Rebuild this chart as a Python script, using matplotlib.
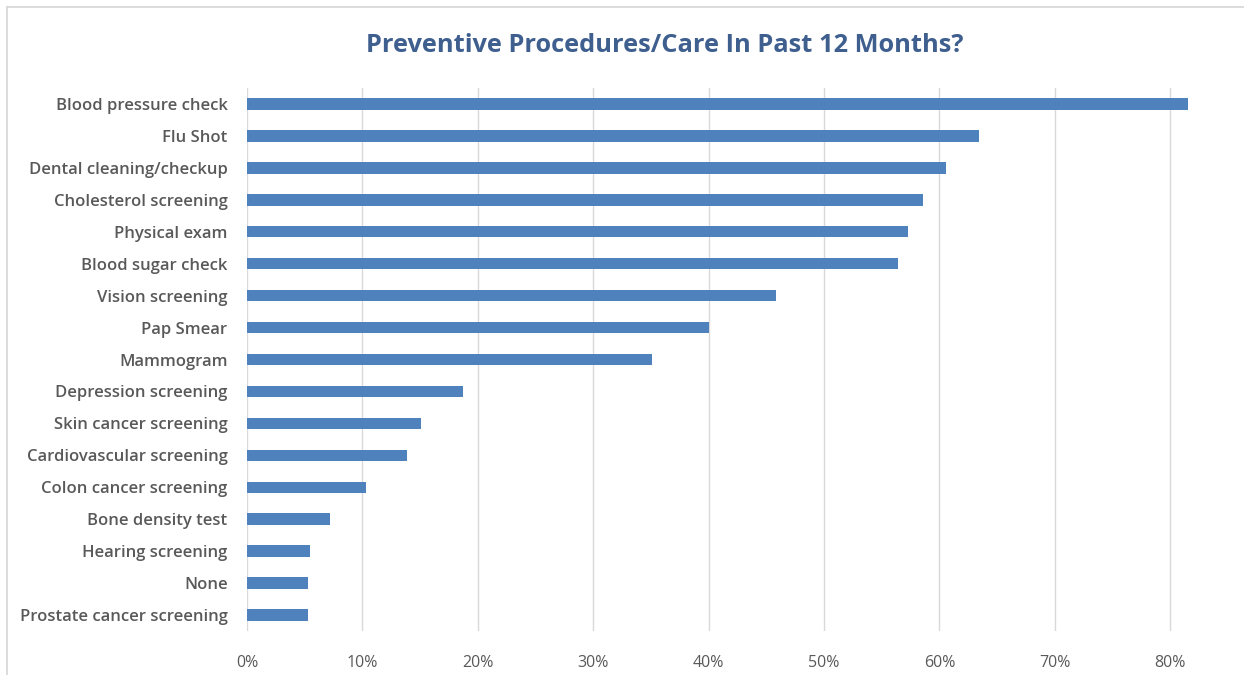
import matplotlib
matplotlib.use("Agg")
import matplotlib.pyplot as plt
from matplotlib.lines import Line2D
from matplotlib.ticker import PercentFormatter

categories = [
    "Blood pressure check", "Flu Shot", "Dental cleaning/checkup",
    "Cholesterol screening", "Physical exam", "Blood sugar check",
    "Vision screening", "Pap Smear", "Mammogram", "Depression screening",
    "Skin cancer screening", "Cardiovascular screening",
    "Colon cancer screening", "Bone density test", "Hearing screening",
    "None", "Prostate cancer screening",
]
values = [81.5, 63.4, 60.6, 58.6, 57.3, 56.4, 45.8, 40.0, 35.1, 18.7,
          15.1, 13.9, 10.3, 7.2, 5.5, 5.3, 5.3]
xticks = [0, 10, 20, 30, 40, 50, 60, 70, 80]
title = "Preventive Procedures/Care In Past 12 Months?"

W, H = 1244, 675
fig = plt.figure(figsize=(W / 100, H / 100), dpi=100)
fig.patch.set_facecolor("white")

# chart frame (only left and top edges visible; the rest is cropped)
fig.lines.append(Line2D([7 / W, 7 / W], [0, 1 - 7 / H], transform=fig.transFigure,
                        color="#D9D9D9", linewidth=1.3))
fig.lines.append(Line2D([7 / W, 1], [1 - 7 / H, 1 - 7 / H], transform=fig.transFigure,
                        color="#D9D9D9", linewidth=1.3))

left, right = 247, 247 + 9 * 115.4
top, bottom = 88, 631
ax = fig.add_axes([left / W, 1 - bottom / H, (right - left) / W, (bottom - top) / H])

y = list(range(len(categories)))
ax.barh(y, values, height=0.36, color="#4F81BD", zorder=3)
ax.set_ylim(len(categories) - 0.5, -0.5)
ax.set_xlim(0, 90)
ax.set_xticks(xticks)
ax.xaxis.set_major_formatter(PercentFormatter(decimals=0))
ax.set_yticks(y)
ax.set_yticklabels(categories)

ax.grid(axis="x", color="#D9D9D9", linewidth=1.0, zorder=0)
for s in ax.spines.values():
    s.set_visible(False)
ax.tick_params(axis="both", length=0)
ax.tick_params(axis="x", pad=17, labelsize=11.5, labelcolor="#595959")
ax.tick_params(axis="y", pad=14, labelsize=12, labelcolor="#595959")
for lab in ax.get_yticklabels():
    lab.set_fontfamily("Open Sans")
    lab.set_fontweight("semibold")
for lab in ax.get_xticklabels():
    lab.set_fontfamily("Open Sans")

fig.text(665 / W, 1 - 45 / H, title, ha="center", va="center",
         fontsize=18.3, fontweight="bold", color="#3F5F8F", family="Open Sans")

fig.savefig("out.png", dpi=100)
